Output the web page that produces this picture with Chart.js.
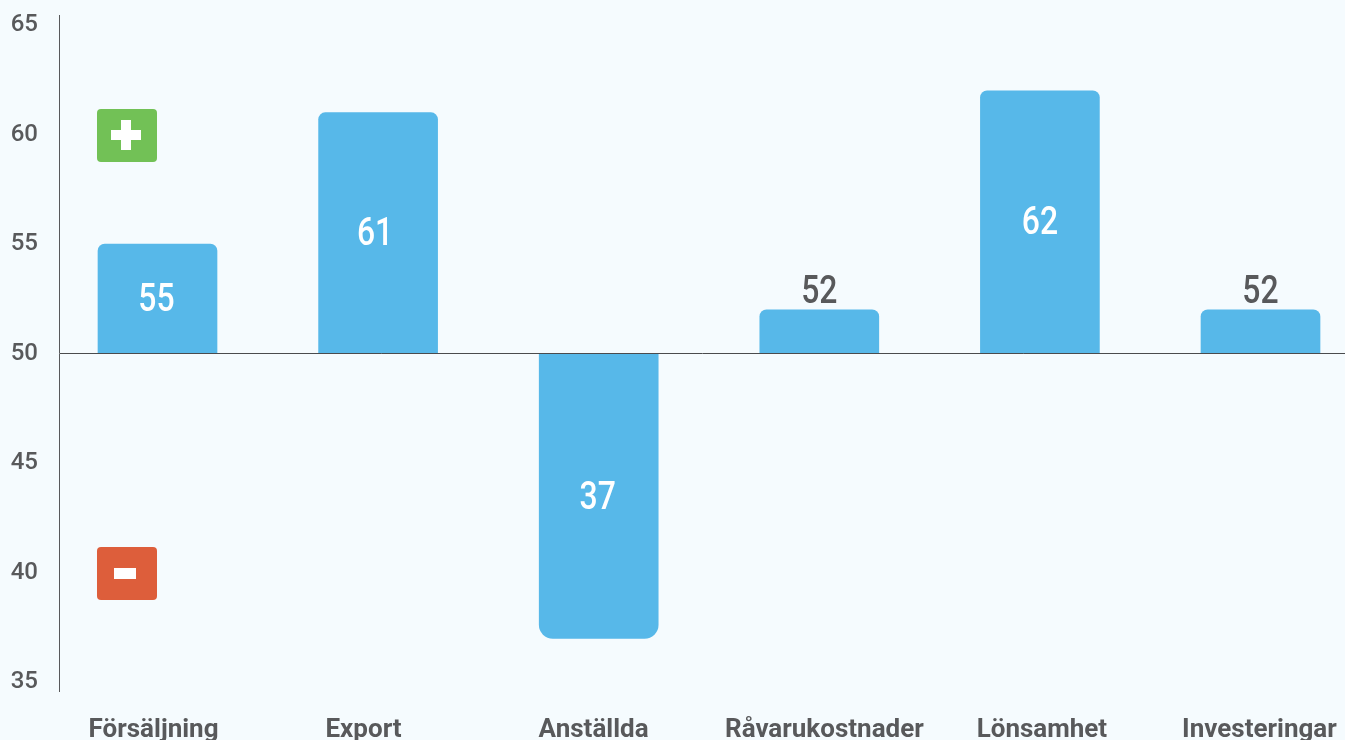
<!DOCTYPE html>
<html lang="sv">
<head>
<meta charset="utf-8">
<title>Index per område</title>
<script src="https://cdn.jsdelivr.net/npm/chart.js@4/dist/chart.umd.min.js"></script>
<style>
  html, body { margin: 0; background: #f5fbfe; }
  #wrap { width: 1345px; height: 740px; }
</style>
</head>
<body>
<div id="wrap"><canvas id="indexChart"></canvas></div>
<script>
const categories = ['Försäljning', 'Export', 'Anställda', 'Råvarukostnader', 'Lönsamhet', 'Investeringar'];
const values = [55, 61, 37, 52, 62, 52];
const yTicks = [35, 40, 45, 50, 55, 60, 65];
const baseline = 50;

const TEXT = '#58595b';
const BAR = '#57b8e9';
const fontFamily = "'Roboto', sans-serif";

// category labels and value labels don't sit exactly on the bar centres
const tickNudge = [-0.018, -0.066, -0.023, 0.023, 0.009, -0.005];
const labelNudge = [-1, -3, -1, 0, 0, 0];

// bar labels: inside the bar when it is tall enough, otherwise above it
const valueLabels = {
  id: 'valueLabels',
  afterDatasetsDraw(chart) {
    const { ctx } = chart;
    const bars = chart.getDatasetMeta(0).data;
    ctx.save();
    ctx.font = `500 38px ${fontFamily}`;
    ctx.textAlign = 'center';
    ctx.textBaseline = 'middle';
    bars.forEach((bar, i) => {
      const inside = Math.abs(values[i] - baseline) > 3;
      ctx.fillStyle = inside ? '#ffffff' : TEXT;
      const y = inside ? (bar.y + bar.base) / 2 + 3 : bar.y - 16;
      ctx.save();
      ctx.translate(bar.x + labelNudge[i], y);
      ctx.scale(0.84, 1);
      ctx.fillText(String(values[i]), 0, 0);
      ctx.restore();
    });
    ctx.restore();
  },
};

// plus and minus badges in the first column, at 60 and 40 on the value axis
const signBadges = {
  id: 'signBadges',
  afterDatasetsDraw(chart) {
    const { ctx, scales } = chart;
    const left = chart.getDatasetMeta(0).data[0].x - 60.5;
    const badge = (value, color, drawSign) => {
      const cy = Math.round(scales.y.getPixelForValue(value)) + 0.5;
      const cx = left + 29;
      ctx.fillStyle = color;
      ctx.beginPath();
      ctx.roundRect(left, cy - 26.5, 60, 53, 4);
      ctx.fill();
      ctx.fillStyle = '#ffffff';
      drawSign(cx, Math.floor(cy));
    };
    ctx.save();
    badge(60, '#72c156', (cx, cy) => {
      ctx.fillRect(cx - 15, cy - 5, 30, 10);
      ctx.fillRect(cx - 5, cy - 15, 10, 30);
    });
    badge(40, '#dd5e3b', (cx, cy) => {
      ctx.fillRect(cx - 12, cy - 5, 22, 11);
    });
    ctx.restore();
  },
};

new Chart(document.getElementById('indexChart'), {
  type: 'bar',
  data: {
    datasets: [{
      data: values.map((value, i) => ({ x: i, y: value })),
      base: baseline,
      backgroundColor: BAR,
      barThickness: 119,
      borderSkipped: 'start',
      borderRadius: (context) => (values[context.dataIndex] < baseline ? 14 : 7),
    }],
  },
  plugins: [valueLabels, signBadges],
  options: {
    responsive: true,
    maintainAspectRatio: false,
    animation: false,
    layout: { padding: { top: 15 } },
    plugins: {
      legend: { display: false },
      tooltip: { enabled: false },
    },
    scales: {
      x: {
        type: 'linear',
        offset: false,
        min: -0.4465,
        max: 5.383,
        grid: { display: false, offset: false },
        border: { display: false },
        afterBuildTicks: (scale) => {
          scale.ticks = categories.map((_, i) => ({ value: i + tickNudge[i] }));
        },
        // no extra room for the outermost labels, the plot runs to the edge
        afterFit: (scale) => {
          scale.height = 49;
          scale.paddingLeft = 0;
          scale.paddingRight = 0;
        },
        ticks: {
          autoSkip: false,
          maxRotation: 0,
          padding: 16,
          color: TEXT,
          font: { family: fontFamily, size: 26, weight: '700' },
          callback: (value, index) => categories[index],
        },
      },
      y: {
        min: 34.6,
        max: 65.46,
        grid: {
          z: 1,
          drawTicks: false,
          lineWidth: 1,
          color: (context) => (context.tick && context.tick.value === baseline ? '#4a4b4d' : 'transparent'),
        },
        // same layer as the grid, the border position is computed when the grid draws
        border: { color: '#58595b', width: 1, z: 1 },
        afterBuildTicks: (scale) => {
          scale.ticks = yTicks.map((value) => ({ value }));
        },
        afterFit: (scale) => {
          scale.width = 59;
          scale.paddingTop = 0;
          scale.paddingBottom = 0;
        },
        ticks: {
          padding: 21,
          color: TEXT,
          font: { family: fontFamily, size: 24, weight: '500' },
        },
      },
    },
  },
});
</script>
</body>
</html>
